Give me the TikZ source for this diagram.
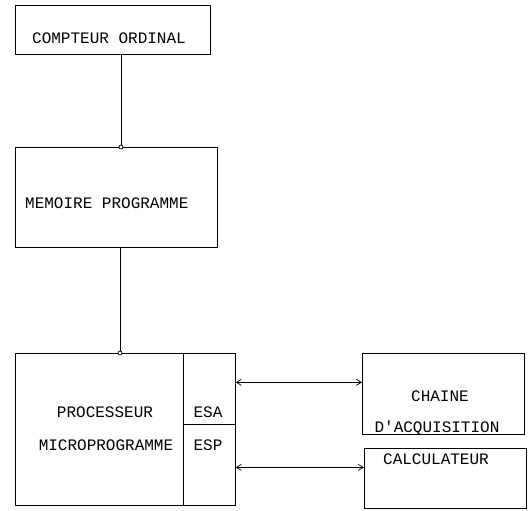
\documentclass[tikz,border=0pt]{standalone}
\usepackage{fontspec}
\setmonofont{Liberation Mono}
\usetikzlibrary{arrows.meta}
\begin{document}
\begin{tikzpicture}[x=1pt,y=-1pt,
  box/.style={draw, line width=0.7pt, inner sep=0pt, anchor=north west},
  lbl/.style={font=\ttfamily\fontsize{16}{18}\selectfont, inner sep=0pt},
  wire/.style={line width=0.7pt},
  link/.style={line width=0.7pt, {Straight Barb[length=5pt,width=6pt]}-{Straight Barb[length=5pt,width=6pt]}}]
\useasboundingbox (0,0) rectangle (531,511);
% boxes
\node[box, minimum width=195pt, minimum height=49pt] (compteur) at (15,5) {};
\node[box, minimum width=202pt, minimum height=100pt] (mem) at (15,147) {};
\node[box, minimum width=168pt, minimum height=152pt] (proc) at (15,353) {};
\node[box, minimum width=52pt, minimum height=71pt] (esa) at (183,353) {};
\node[box, minimum width=52pt, minimum height=81pt] (esp) at (183,424) {};
\node[box, minimum width=162pt, minimum height=81pt] (chaine) at (362,353) {};
\node[box, minimum width=162pt, minimum height=60pt] (calc) at (364,448) {};
% texts
\node[lbl] (tcompteur) at (109,38) {COMPTEUR ORDINAL};
\node[lbl, anchor=west] (tmem) at (25,203) {MEMOIRE PROGRAMME};
\node[lbl] (tproc) at (105,412) {PROCESSEUR};
\node[lbl] (tmicro) at (106,445) {MICROPROGRAMME};
\node[lbl] (tesa) at (208,412) {ESA};
\node[lbl] (tesp) at (208,445) {ESP};
\node[lbl] (tchaine) at (440,396) {CHAINE};
\node[lbl] (tacq) at (437,428) {D'ACQUISITION};
\node[lbl] (tcalc) at (436,459) {CALCULATEUR};
% junctions
\coordinate (j1) at (121,147);
\coordinate (j2) at (120,353);
\draw[wire] (compteur.south -| j1) -- (j1);
\draw[wire, fill=white] (j1) circle (2pt);
\draw[wire] (mem.south -| j2) -- (j2);
\draw[wire, fill=white] (j2) circle (2pt);
% arrows
\draw[link] ([yshift=6.5pt]esa.east) -- ([yshift=11.5pt]chaine.west);
\draw[link] ([yshift=-2.5pt]esp.east) -- ([yshift=11pt]calc.west);
\end{tikzpicture}
\end{document}
